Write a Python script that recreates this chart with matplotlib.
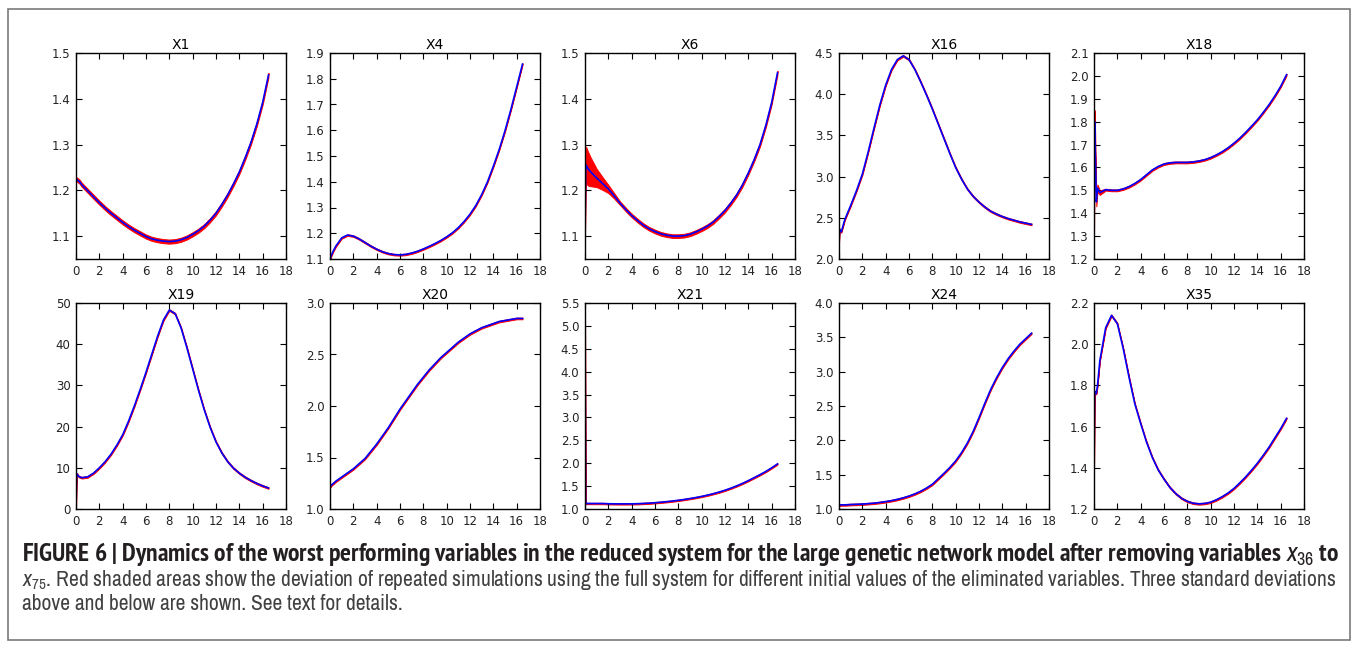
import numpy as np
import matplotlib
matplotlib.use('Agg')
import matplotlib.pyplot as plt
from matplotlib import font_manager
from matplotlib.font_manager import FontProperties
from matplotlib.patches import Rectangle
from matplotlib.ticker import MultipleLocator, ScalarFormatter

# time grid of the simulations (fine steps at the start, then 0.5)
t_start = [0.0, 0.05, 0.1, 0.2, 0.3, 0.5]
t_main = [1.0, 1.5, 2.0, 2.5, 3.0, 3.5, 4.0, 4.5, 5.0, 5.5, 6.0, 6.5, 7.0, 7.5, 8.0, 8.5,
          9.0, 9.5, 10.0, 10.5, 11.0, 11.5, 12.0, 12.5, 13.0, 13.5, 14.0, 14.5, 15.0, 15.5, 16.0, 16.5]
T = np.array(t_start + t_main)

names = ['X1', 'X4', 'X6', 'X16', 'X18', 'X19', 'X20', 'X21', 'X24', 'X35']

# reduced system trajectories
x1 = [1.225, 1.224, 1.223, 1.221, 1.219, 1.212,
      1.199, 1.186, 1.173, 1.161, 1.150, 1.140, 1.130, 1.121, 1.113, 1.106, 1.099, 1.094, 1.091, 1.089, 1.088, 1.089,
      1.092, 1.097, 1.104, 1.112, 1.122, 1.135, 1.150, 1.169, 1.190, 1.214, 1.240, 1.271, 1.305, 1.345, 1.392, 1.452]
x4 = [1.100, 1.106, 1.112, 1.123, 1.133, 1.150,
      1.182, 1.193, 1.189, 1.178, 1.164, 1.150, 1.138, 1.128, 1.121, 1.117, 1.116, 1.118, 1.123, 1.130, 1.139, 1.149,
      1.160, 1.172, 1.186, 1.202, 1.222, 1.246, 1.274, 1.308, 1.350, 1.400, 1.460, 1.525, 1.598, 1.680, 1.768, 1.857]
x6 = [1.100, 1.240, 1.255, 1.250, 1.246, 1.240,
      1.227, 1.215, 1.203, 1.188, 1.172, 1.158, 1.145, 1.134, 1.124, 1.116, 1.110, 1.105, 1.102, 1.100, 1.100, 1.101,
      1.104, 1.109, 1.115, 1.122, 1.131, 1.143, 1.156, 1.172, 1.190, 1.212, 1.238, 1.267, 1.300, 1.342, 1.392, 1.457]
x16 = [2.20, 2.36, 2.34, 2.33, 2.38, 2.48,
       2.65, 2.83, 3.03, 3.30, 3.59, 3.87, 4.11, 4.30, 4.42, 4.465, 4.42, 4.30, 4.15, 3.99, 3.82, 3.64,
       3.46, 3.28, 3.11, 2.97, 2.85, 2.76, 2.69, 2.63, 2.58, 2.545, 2.515, 2.49, 2.47, 2.45, 2.435, 2.42]
x18 = [1.30, 1.80, 1.70, 1.45, 1.51, 1.49,
       1.503, 1.500, 1.500, 1.506, 1.516, 1.530, 1.547, 1.568, 1.589, 1.604, 1.615, 1.620, 1.622, 1.622, 1.622, 1.624,
       1.628, 1.634, 1.643, 1.655, 1.669, 1.686, 1.706, 1.728, 1.753, 1.780, 1.808, 1.840, 1.874, 1.912, 1.954, 2.005]
x19 = [0.0, 8.0, 8.5, 8.0, 7.8, 7.6,
       7.8, 8.7, 10.0, 11.5, 13.3, 15.5, 18.0, 21.3, 25.0, 29.0, 33.2, 37.6, 42.0, 45.9, 48.3, 47.4,
       44.0, 39.2, 34.0, 28.8, 24.0, 19.8, 16.3, 13.6, 11.5, 9.9, 8.7, 7.7, 6.9, 6.2, 5.6, 5.1]
x20 = [1.22, 1.22, 1.23, 1.24, 1.25, 1.27,
       1.31, 1.35, 1.39, 1.44, 1.49, 1.56, 1.63, 1.71, 1.79, 1.88, 1.97, 2.05, 2.13, 2.21, 2.28, 2.35,
       2.41, 2.47, 2.52, 2.57, 2.62, 2.66, 2.70, 2.73, 2.76, 2.78, 2.80, 2.82, 2.83, 2.84, 2.85, 2.85]
x21 = [5.35, 1.12, 1.12, 1.12, 1.12, 1.12,
       1.12, 1.12, 1.115, 1.113, 1.112, 1.112, 1.113, 1.116, 1.121, 1.128, 1.137, 1.148, 1.160, 1.174, 1.190, 1.208,
       1.228, 1.250, 1.275, 1.303, 1.335, 1.370, 1.410, 1.455, 1.505, 1.560, 1.620, 1.685, 1.750, 1.820, 1.900, 1.985]
x24 = [1.05, 1.055, 1.06, 1.06, 1.06, 1.06,
       1.065, 1.068, 1.072, 1.078, 1.085, 1.095, 1.107, 1.122, 1.140, 1.162, 1.188, 1.220, 1.258, 1.305, 1.360, 1.440,
       1.520, 1.605, 1.700, 1.820, 1.960, 2.130, 2.330, 2.540, 2.740, 2.910, 3.060, 3.190, 3.300, 3.400, 3.480, 3.560]
x35 = [1.38, 1.77, 1.77, 1.76, 1.80, 1.92,
       2.08, 2.14, 2.10, 1.98, 1.84, 1.71, 1.615, 1.525, 1.45, 1.39, 1.345, 1.305, 1.275, 1.252, 1.237, 1.228,
       1.225, 1.227, 1.233, 1.245, 1.26, 1.278, 1.30, 1.327, 1.356, 1.388, 1.422, 1.46, 1.50, 1.545, 1.59, 1.64]
series = [x1, x4, x6, x16, x18, x19, x20, x21, x24, x35]

# three standard deviations of the full system (red band)
spread = [0.0045, 0.003, 0.004, 0.01, 0.004, 0.2, 0.008, 0.015, 0.012, 0.004]
band_x6 = [0.0, 0.035, 0.040, 0.038, 0.036, 0.031, 0.020, 0.014, 0.009, 0.006] + [0.004] * 28
band_x18 = [0.0, 0.05, 0.05, 0.02, 0.015, 0.01] + [0.004] * 32

ylims = [(1.05, 1.5), (1.1, 1.9), (1.05, 1.5), (2.0, 4.5), (1.2, 2.1),
         (0, 50), (1.0, 3.0), (1.0, 5.5), (1.0, 4.0), (1.2, 2.2)]
ysteps = [0.1, 0.1, 0.1, 0.5, 0.1, 10, 0.5, 0.5, 0.5, 0.2]

W, H = 1357, 648
fig = plt.figure(figsize=(W / 100, H / 100), dpi=100)

lefts = [76, 330, 585, 839, 1094]
bottoms = [259, 509]
aw, ah = 210, 206

for i, name in enumerate(names):
    r, c = divmod(i, 5)
    ax = fig.add_axes([lefts[c] / W, 1 - bottoms[r] / H, aw / W, ah / H])
    y = np.array(series[i])
    if name == 'X6':
        sd = np.array(band_x6)
    elif name == 'X18':
        sd = np.array(band_x18)
    else:
        sd = spread[i]
    ax.fill_between(T, y - sd, y + sd, facecolor='red', edgecolor='red', lw=0.7)
    ax.plot(T, y, color='blue', lw=1.2)
    ax.set_xlim(0, 18)
    ax.set_ylim(*ylims[i])
    ax.xaxis.set_major_locator(MultipleLocator(2))
    ax.yaxis.set_major_locator(MultipleLocator(ysteps[i]))
    ax.yaxis.set_major_formatter(ScalarFormatter(useOffset=False))
    ax.tick_params(direction='in', top=True, right=True, length=4, width=0.8,
                   labelsize=8.5, pad=4, colors='black', labelcolor='#222222')
    for s in ax.spines.values():
        s.set_linewidth(1.0)
    ax.set_title(name, fontsize=10, pad=3)

# outer frame
fig.patches.append(Rectangle((8 / W, 1 - 640 / H), 1342 / W, 631 / H, transform=fig.transFigure,
                             fill=False, edgecolor='#7a7a7a', lw=1.2))

# caption font: a narrow face if there is one
narrow = [f for f in font_manager.fontManager.ttflist if 'Narrow' in f.name]
if narrow:
    cap_font = narrow[0].name
    bold_faces = [f for f in narrow if f.style == 'normal' and
                  (f.weight in (600, 700, 800, 'bold', 'semibold') or 'Bold' in f.fname)]
else:
    cap_font = 'Liberation Sans'
    bold_faces = []

plt.rcParams['mathtext.fontset'] = 'custom'
plt.rcParams['mathtext.rm'] = cap_font
plt.rcParams['mathtext.it'] = cap_font + ':italic'
plt.rcParams['mathtext.bf'] = cap_font + ':bold'
plt.rcParams['mathtext.bfit'] = cap_font + ':italic:bold'

line1 = ('FIGURE 6 | Dynamics of the worst performing variables in the reduced system for the large '
         'genetic network model after removing variables $x_{36}$ to')
line2 = ('$\\mathbfit{x}_{\\mathbf{75}}$. Red shaded areas show the deviation of repeated simulations using the full '
         'system for different initial values of the eliminated variables. Three standard deviations')
line3 = 'above and below are shown. See text for details.'

if bold_faces:
    bold_prop = FontProperties(fname=bold_faces[0].fname, size=11)
else:
    bold_prop = FontProperties(family=cap_font, weight='bold', size=11)
reg_prop = FontProperties(family=cap_font, size=11)

t1 = fig.text(22 / W, 1 - 561 / H, line1, fontproperties=bold_prop, color='#231f20', va='baseline')
t2 = fig.text(22 / W, 1 - 586 / H, line2, fontproperties=reg_prop, color='#404040', va='baseline')
t3 = fig.text(22 / W, 1 - 610 / H, line3, fontproperties=reg_prop.copy(), color='#404040', va='baseline')

# scale caption lines to the width they take in the figure
renderer = fig.canvas.get_renderer()
w1 = t1.get_window_extent(renderer).width
t1.set_fontsize(11 * 1315 / w1)
w2 = t2.get_window_extent(renderer).width
fs2 = 11 * 1315 / w2
t2.set_fontsize(fs2)
t3.set_fontsize(fs2)

fig.savefig('out.png', dpi=100)
